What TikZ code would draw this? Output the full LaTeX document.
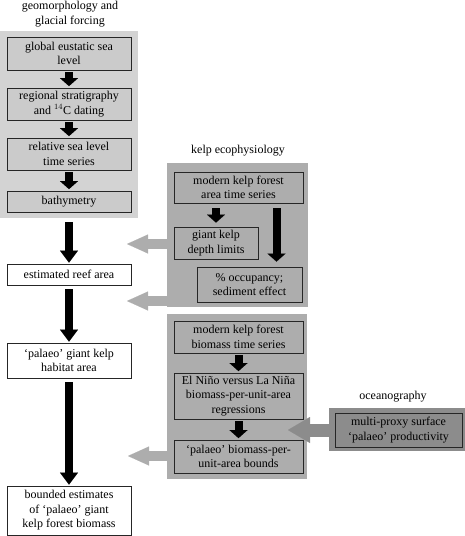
\documentclass[tikz,border=0pt]{standalone}
\usepackage{fontspec}
\setmainfont{Liberation Serif}
\usetikzlibrary{arrows.meta}
\definecolor{geogray}{HTML}{D3D3D3}
\definecolor{geobox}{HTML}{CBCBCB}
\definecolor{kelpgray}{HTML}{ADADAD}
\definecolor{oceangray}{HTML}{8C8C8C}
\begin{document}
\begin{tikzpicture}[x=1pt,y=-1pt,
    font=\fontsize{12}{14.5}\selectfont,
    panel/.style={inner sep=0pt},
    box/.style={draw=black!85, line width=0.8pt, align=center, inner sep=0pt},
    blk/.style={line width=8pt, -{Triangle[length=8pt,width=18pt,line width=0.01pt]},
      shorten <=2pt, shorten >=1.5pt},
    bigblk/.style={line width=8pt, -{Triangle[length=12pt,width=18pt,line width=0.01pt]},
      shorten <=4pt, shorten >=1pt},
    grayarrow/.style={line width=10pt, -{Triangle[length=21pt,width=19pt,line width=0.01pt]}}]
  \useasboundingbox (0,0) rectangle (465,536);
  % panels
  \node [panel, fill=geogray, minimum width=138pt, minimum height=187pt] (geo) at (69,124.5) {};
  \node [panel, fill=kelpgray, minimum width=141pt, minimum height=144pt] (kelp) at (237.5,235) {};
  \node [panel, fill=kelpgray, minimum width=140pt, minimum height=165pt] (biomass) at (237,396.5) {};
  \node [panel, fill=oceangray, minimum width=137pt, minimum height=43pt] (ocean) at (397.5,429.5) {};
  \node [align=center] (geotitle) at (70,14) {geomorphology and\\glacial forcing};
  \node (kelptitle) at (238,151) {kelp ecophysiology};
  \node (oceantitle) at (393,397) {oceanography};
  % wide gray arrows
  \coordinate (t1) at (127,244);
  \coordinate (t2) at (127,301);
  \coordinate (t3) at (128,456);
  \coordinate (t4) at (288,430);
  \draw [grayarrow, kelpgray] (kelp.west |- t1) -- (t1);
  \draw [grayarrow, kelpgray] (kelp.west |- t2) -- (t2);
  \draw [grayarrow, kelpgray] (biomass.west |- t3) -- (t3);
  \draw [grayarrow, oceangray, line width=13pt,
    -{Triangle[length=22pt,width=26pt,line width=0.01pt]}] (ocean.west |- t4) -- (t4);
  % geomorphology boxes
  \node [box, fill=geobox, minimum width=124pt, minimum height=33pt] (g1) at (69,53.5) {global eustatic sea\\level};
  \node [box, fill=geobox, minimum width=124pt, minimum height=32pt] (g2) at (69,104) {regional stratigraphy\\and $^{14}$C dating};
  \node [box, fill=geobox, minimum width=124pt, minimum height=32pt] (g3) at (69,154) {relative sea level\\time series};
  \node [box, fill=geobox, minimum width=124pt, minimum height=21pt] (g4) at (69,201.5) {bathymetry};
  \draw [blk] (g1) -- (g2);
  \draw [blk] (g2) -- (g3);
  \draw [blk] (g3) -- (g4);
  % main column
  \node [box, fill=white, minimum width=124pt, minimum height=21pt] (reef) at (69,274.5) {estimated reef area};
  \node [box, fill=white, minimum width=124pt, minimum height=35pt] (habitat) at (69,360.5) {`palaeo' giant kelp\\habitat area};
  \node [box, fill=white, minimum width=124pt, minimum height=49pt] (bounded) at (69,510.5) {bounded estimates\\of `palaeo' giant\\kelp forest biomass};
  \draw [bigblk] (geo) -- (reef);
  \draw [bigblk] (reef) -- (habitat);
  \draw [bigblk] (habitat) -- (bounded);
  % kelp ecophysiology
  \node [box, minimum width=129pt, minimum height=31pt] (k1) at (238.5,187.5) {modern kelp forest\\area time series};
  \node [box, minimum width=84pt, minimum height=32pt] (k2) at (216,243) {giant kelp\\depth limits};
  \node [box, minimum width=105pt, minimum height=35pt] (k3) at (249.5,284.5) {\% occupancy;\\sediment effect};
  \draw [blk, shorten <=5pt, shorten >=4pt] (k1.south -| k2) -- (k2);
  \draw [blk, shorten <=5pt, shorten >=5pt] ([xshift=38pt]k1.south) -- ([xshift=38pt]k1.south |- k3.north);
  % kelp biomass
  \node [box, minimum width=129pt, minimum height=32pt] (b1) at (238.5,337) {modern kelp forest\\biomass time series};
  \node [box, minimum width=129pt, minimum height=46pt] (b2) at (238.5,396) {El Niño versus La Niña\\biomass-per-unit-area\\regressions};
  \node [box, minimum width=129pt, minimum height=33pt] (b3) at (238.5,456.5) {`palaeo' biomass-per-\\unit-area bounds};
  \draw [blk] (b1) -- (b2);
  \draw [blk] (b2) -- (b3);
  % oceanography
  \node [box, minimum width=127pt, minimum height=34pt] (o1) at (398.5,430) {multi-proxy surface\\`palaeo' productivity};
\end{tikzpicture}
\end{document}
